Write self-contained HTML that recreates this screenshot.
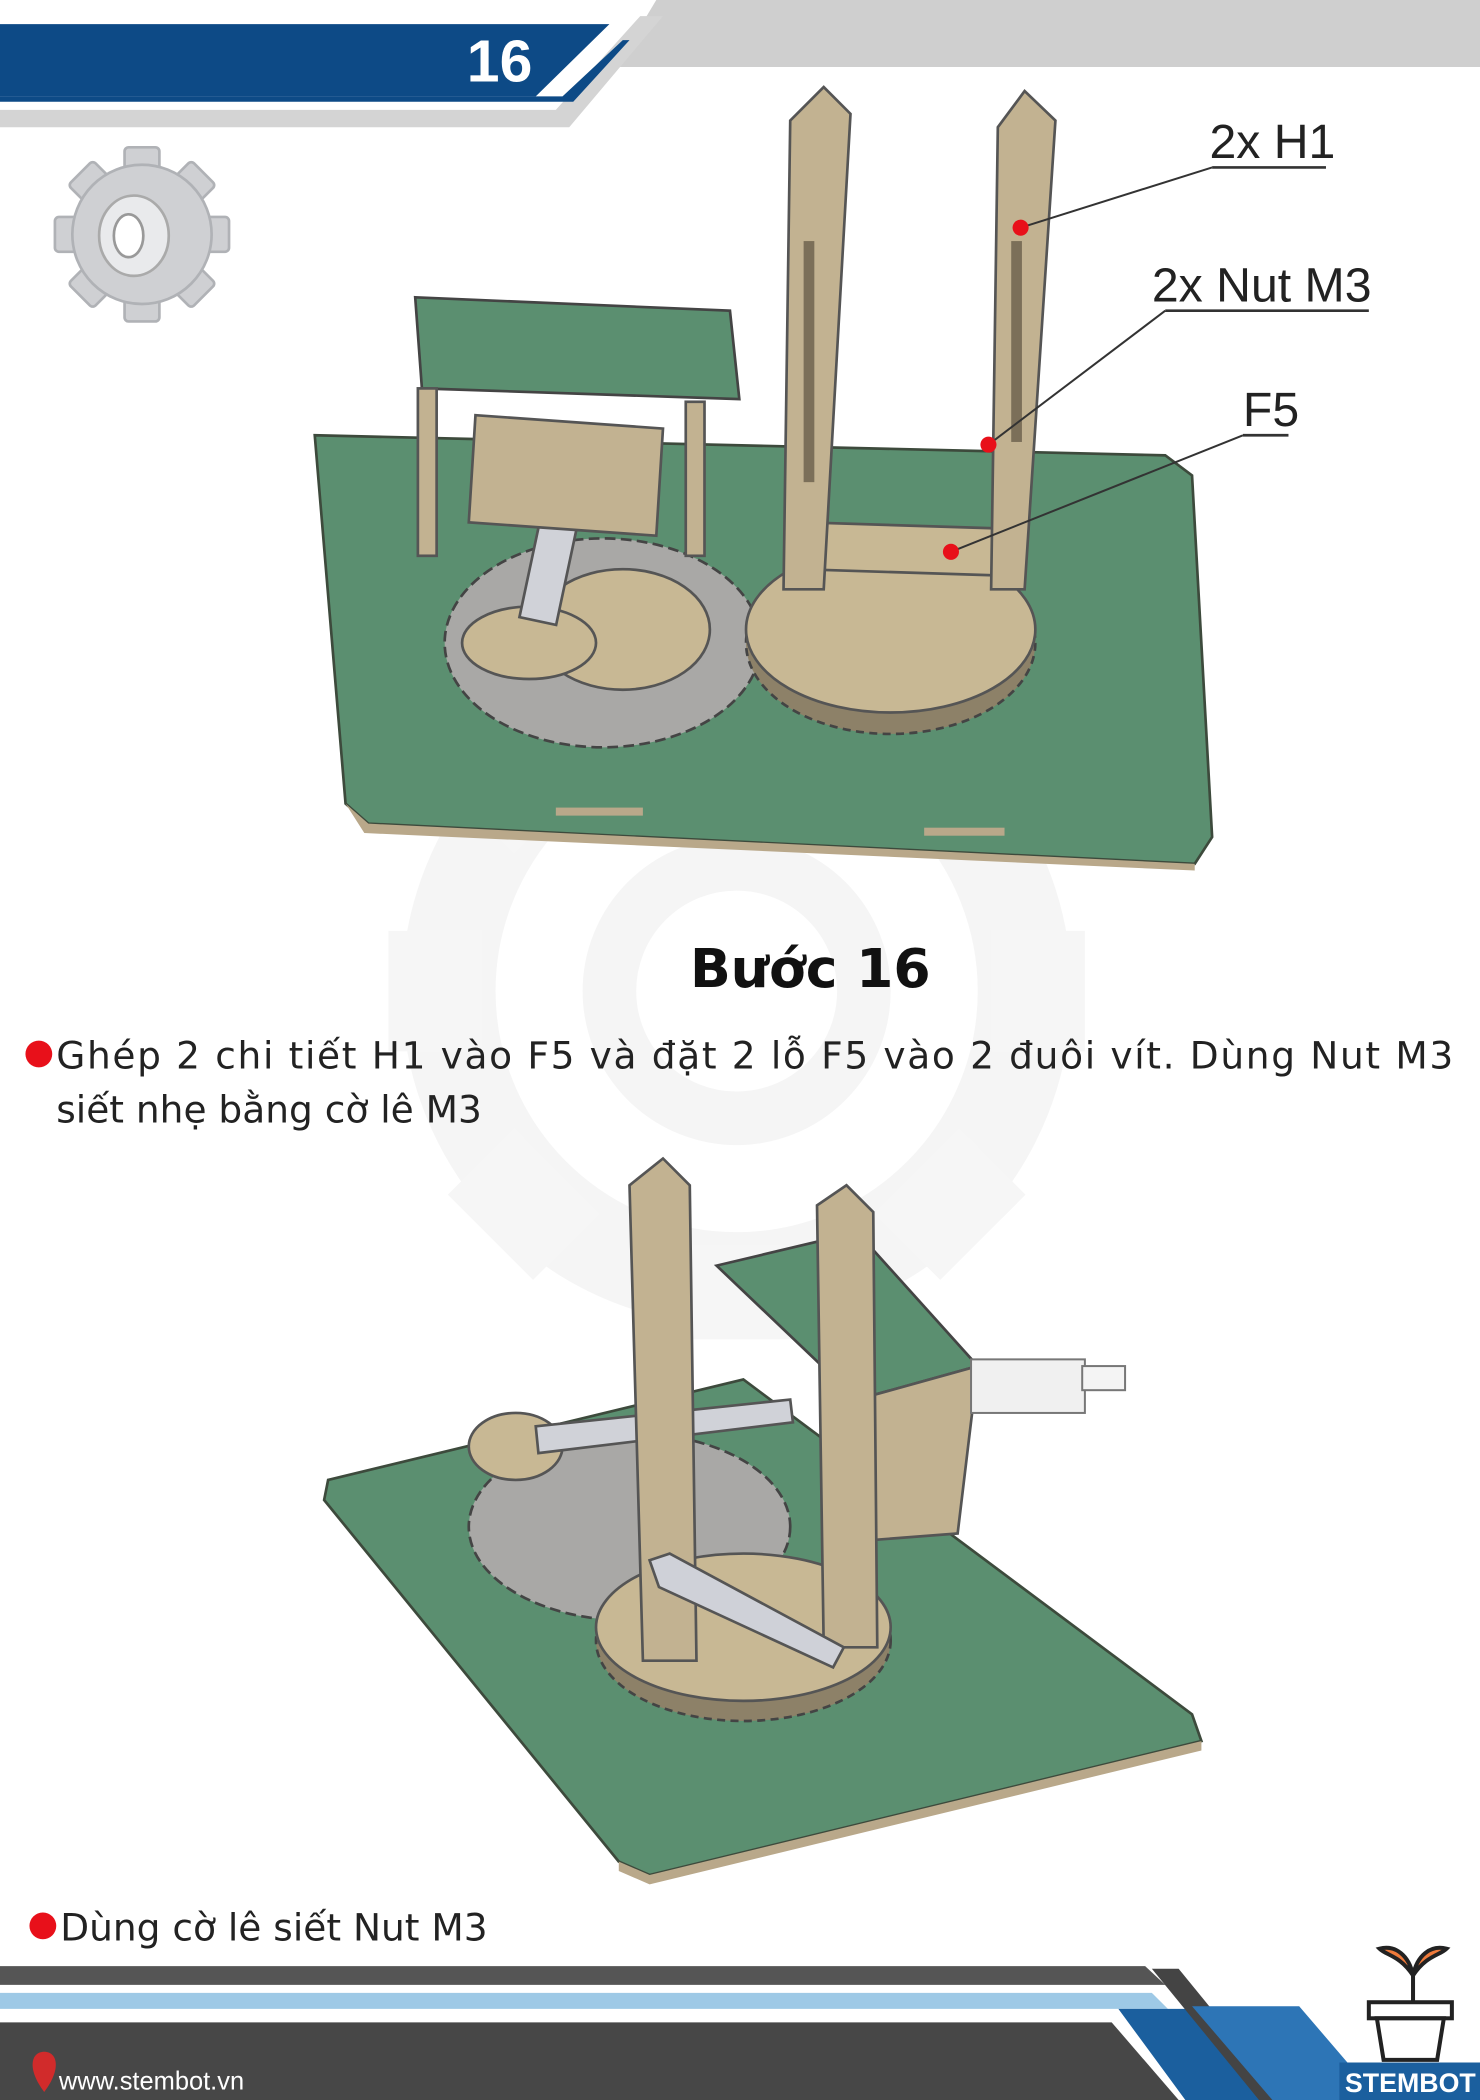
<!DOCTYPE html>
<html><head><meta charset="utf-8"><title>Bước 16</title>
<style>
html,body{margin:0;padding:0;background:#fff;}
svg{display:block;}
text{font-family:"Liberation Sans","DejaVu Sans",sans-serif;}
.dj{font-family:"DejaVu Sans","Liberation Sans",sans-serif;}
</style></head>
<body>
<svg width="1480" height="2100" viewBox="0 0 1105 1568" preserveAspectRatio="none">
  <!-- watermark gear -->
  <g fill="none" stroke="#f5f5f5" stroke-width="70">
    <circle cx="550" cy="740" r="215"/>
    <circle cx="550" cy="740" r="95" stroke-width="40"/>
  </g>
  <g fill="#f6f6f6">
    <rect x="505" y="480" width="90" height="70" transform="rotate(0 550 740)"/>
    <rect x="505" y="480" width="90" height="70" transform="rotate(45 550 740)"/>
    <rect x="505" y="480" width="90" height="70" transform="rotate(90 550 740)"/>
    <rect x="505" y="480" width="90" height="70" transform="rotate(135 550 740)"/>
    <rect x="505" y="480" width="90" height="70" transform="rotate(180 550 740)"/>
    <rect x="505" y="480" width="90" height="70" transform="rotate(225 550 740)"/>
    <rect x="505" y="480" width="90" height="70" transform="rotate(270 550 740)"/>
    <rect x="505" y="480" width="90" height="70" transform="rotate(315 550 740)"/>
  </g>

  <!-- header -->
  <g>
    <polygon points="490,0 1105,0 1105,50 460,50" fill="#cfcfcf"/>
    <polygon points="0,82 415,82 478,12 495,12 425,95 0,95" fill="#d4d4d4"/>
    <polygon points="0,18 455,18 400,72 0,72" fill="#0d4a86"/>
    <polygon points="420,72 465,30 470,30 428,76 0,76 0,72" fill="#0d4a86"/>
    <text x="373" y="61" font-size="44" font-weight="bold" fill="#fff" text-anchor="middle">16</text>
  </g>

  <!-- gear icon -->
  <g>
    <g fill="#cfd0d3" stroke="#b0b2b6" stroke-width="2">
      <rect x="93" y="110" width="26" height="130" rx="3"/>
      <rect x="93" y="110" width="26" height="130" rx="3" transform="rotate(45 106 175)"/>
      <rect x="93" y="110" width="26" height="130" rx="3" transform="rotate(90 106 175)"/>
      <rect x="93" y="110" width="26" height="130" rx="3" transform="rotate(135 106 175)"/>
      <circle cx="106" cy="175" r="52"/>
    </g>
    <ellipse cx="100" cy="176" rx="26" ry="30" fill="#e9eaec" stroke="#aaa" stroke-width="2"/>
    <ellipse cx="96" cy="176" rx="11" ry="16" fill="#fff" stroke="#999" stroke-width="2"/>
  </g>

  <!-- top illustration -->
  <g>
    <polygon points="235,325 870,340 890,355 905,625 892,645 275,615 258,600" fill="#5b8f70" stroke="#3d4a3c" stroke-width="2"/>
    <polygon points="258,600 275,615 892,645 892,650 272,622" fill="#b9a88a"/>
    <rect x="415" y="603" width="65" height="6" fill="#b9a88a"/>
    <rect x="690" y="618" width="60" height="6" fill="#b9a88a"/>
    <ellipse cx="450" cy="480" rx="118" ry="78" fill="#a9a8a6" stroke="#444" stroke-width="2" stroke-dasharray="8 4"/>
    <ellipse cx="465" cy="470" rx="65" ry="45" fill="#c8b894" stroke="#555" stroke-width="2"/>
    <ellipse cx="395" cy="480" rx="50" ry="27" fill="#c8b894" stroke="#555" stroke-width="2"/>
    <rect x="400" y="345" width="28" height="120" fill="#d0d2d8" stroke="#555" stroke-width="2" transform="rotate(12 414 405)"/>
    <polygon points="355,310 495,320 490,400 350,390" fill="#c2b291" stroke="#555" stroke-width="2"/>
    <polygon points="310,222 545,232 552,298 315,290" fill="#5b8f70" stroke="#444" stroke-width="2"/>
    <rect x="312" y="290" width="14" height="125" fill="#c2b291" stroke="#555" stroke-width="2"/>
    <rect x="512" y="300" width="14" height="115" fill="#c2b291" stroke="#555" stroke-width="2"/>
    <ellipse cx="665" cy="480" rx="108" ry="68" fill="#8d8168" stroke="#444" stroke-width="2" stroke-dasharray="6 4"/>
    <ellipse cx="665" cy="470" rx="108" ry="62" fill="#c8b894" stroke="#555" stroke-width="2"/>
    <polygon points="600,390 760,395 755,430 598,425" fill="#c8b894" stroke="#555" stroke-width="2"/>
    <polygon points="590,90 615,65 635,85 615,440 585,440" fill="#c2b291" stroke="#555" stroke-width="2"/>
    <polygon points="745,95 765,68 788,90 765,440 740,440" fill="#c2b291" stroke="#555" stroke-width="2"/>
    <rect x="600" y="180" width="8" height="180" fill="#7b6f59"/>
    <rect x="755" y="180" width="8" height="150" fill="#7b6f59"/>
    <g stroke="#333" stroke-width="1.5" fill="none">
      <line x1="762" y1="170" x2="905" y2="125"/><line x1="905" y1="125" x2="990" y2="125" stroke-width="2"/>
      <line x1="738" y1="332" x2="870" y2="232"/><line x1="870" y1="232" x2="1022" y2="232" stroke-width="2"/>
      <line x1="710" y1="412" x2="928" y2="325"/><line x1="928" y1="325" x2="962" y2="325" stroke-width="2"/>
    </g>
    <circle cx="762" cy="170" r="6" fill="#e8101a"/>
    <circle cx="738" cy="332" r="6" fill="#e8101a"/>
    <circle cx="710" cy="412" r="6" fill="#e8101a"/>
    <text x="903" y="118" font-size="36" fill="#222">2x H1</text>
    <text x="860" y="225" font-size="36" fill="#222">2x Nut M3</text>
    <text x="928" y="318" font-size="36" fill="#222">F5</text>
  </g>

  <text x="605" y="737" font-size="40" font-weight="bold" fill="#111" text-anchor="middle" class="dj" style="font-family:'DejaVu Sans',sans-serif">Bước 16</text>
  <circle cx="29" cy="787" r="10" fill="#e8101a"/>
  <text x="42" y="798" font-size="28" fill="#222" style="font-family:'DejaVu Sans',sans-serif" textLength="1043" lengthAdjust="spacing">Ghép 2 chi tiết H1 vào F5 và đặt 2 lỗ F5 vào 2 đuôi vít. Dùng Nut M3</text>
  <text x="42" y="838" font-size="28" fill="#222" style="font-family:'DejaVu Sans',sans-serif">siết nhẹ bằng cờ lê M3</text>

  <!-- bottom illustration -->
  <g>
    <polygon points="245,1105 555,1030 890,1280 897,1300 485,1400 462,1390 242,1120" fill="#5b8f70" stroke="#3d4a3c" stroke-width="2"/>
    <polygon points="462,1390 485,1400 897,1300 897,1307 485,1407 462,1397" fill="#b9a88a"/>
    <ellipse cx="470" cy="1140" rx="120" ry="70" fill="#a9a8a6" stroke="#444" stroke-width="2" stroke-dasharray="8 4"/>
    <ellipse cx="555" cy="1225" rx="110" ry="60" fill="#8d8168" stroke="#444" stroke-width="2" stroke-dasharray="6 4"/>
    <ellipse cx="555" cy="1215" rx="110" ry="55" fill="#c8b894" stroke="#555" stroke-width="2"/>
    <ellipse cx="385" cy="1080" rx="35" ry="25" fill="#c8b894" stroke="#555" stroke-width="2"/>
    <polygon points="400,1065 590,1045 592,1062 402,1085" fill="#d0d2d8" stroke="#555" stroke-width="2"/>
    <polygon points="535,945 640,920 730,1020 640,1045" fill="#5b8f70" stroke="#444" stroke-width="2"/>
    <polygon points="640,1045 730,1020 715,1145 650,1150" fill="#c2b291" stroke="#555" stroke-width="2"/>
    <rect x="725" y="1015" width="85" height="40" fill="#f0f0f0" stroke="#777" stroke-width="1.5"/>
    <rect x="808" y="1020" width="32" height="18" fill="#f4f4f4" stroke="#777" stroke-width="1.5"/>
    <polygon points="470,885 495,865 515,885 520,1240 480,1240" fill="#c2b291" stroke="#555" stroke-width="2"/>
    <polygon points="610,900 632,885 652,905 655,1230 615,1230" fill="#c2b291" stroke="#555" stroke-width="2"/>
    <polygon points="485,1165 500,1160 630,1230 622,1245 492,1185" fill="#cfd1d8" stroke="#555" stroke-width="2"/>
  </g>

  <circle cx="32" cy="1438" r="10" fill="#e8101a"/>
  <text x="45" y="1449" font-size="28" fill="#222" style="font-family:'DejaVu Sans',sans-serif">Dùng cờ lê siết Nut M3</text>

  <!-- footer -->
  <g>
    <polygon points="0,1468 855,1468 870,1482 0,1482" fill="#555"/>
    <polygon points="0,1488 860,1488 872,1500 0,1500" fill="#9ec9e6"/>
    <polygon points="0,1510 830,1510 880,1568 0,1568" fill="#474747"/>
    <polygon points="835,1500 930,1500 990,1568 885,1568" fill="#1b5f9e"/>
    <polygon points="860,1470 880,1470 960,1568 940,1568" fill="#444"/>
    <polygon points="890,1498 970,1498 1030,1568 950,1568" fill="#2d75b6"/>
    <rect x="1000" y="1540" width="105" height="28" fill="#1b5f9e"/>
    <path d="M33,1562 C20,1545 23,1532 33,1532 C43,1532 46,1545 33,1562 Z" fill="#d12b2b"/>
    <text x="44" y="1560" font-size="19" fill="#fff">www.stembot.vn</text>
    <g stroke="#222" stroke-width="3" fill="none">
      <path d="M1055,1495 L1055,1470"/>
      <path d="M1055,1475 C1045,1460 1035,1460 1030,1455 C1042,1452 1052,1460 1055,1475 Z" fill="#ef7a3a" stroke="#222"/>
      <path d="M1055,1475 C1065,1460 1075,1460 1080,1455 C1068,1452 1058,1460 1055,1475 Z" fill="#ef7a3a" stroke="#222"/>
      <rect x="1022" y="1495" width="62" height="12" fill="#fff"/>
      <polygon points="1028,1507 1078,1507 1073,1538 1033,1538" fill="#fff"/>
    </g>
    <text x="1053" y="1562" font-size="20" font-weight="bold" fill="#fff" text-anchor="middle">STEMBOT</text>
  </g>
</svg>
</body></html>
